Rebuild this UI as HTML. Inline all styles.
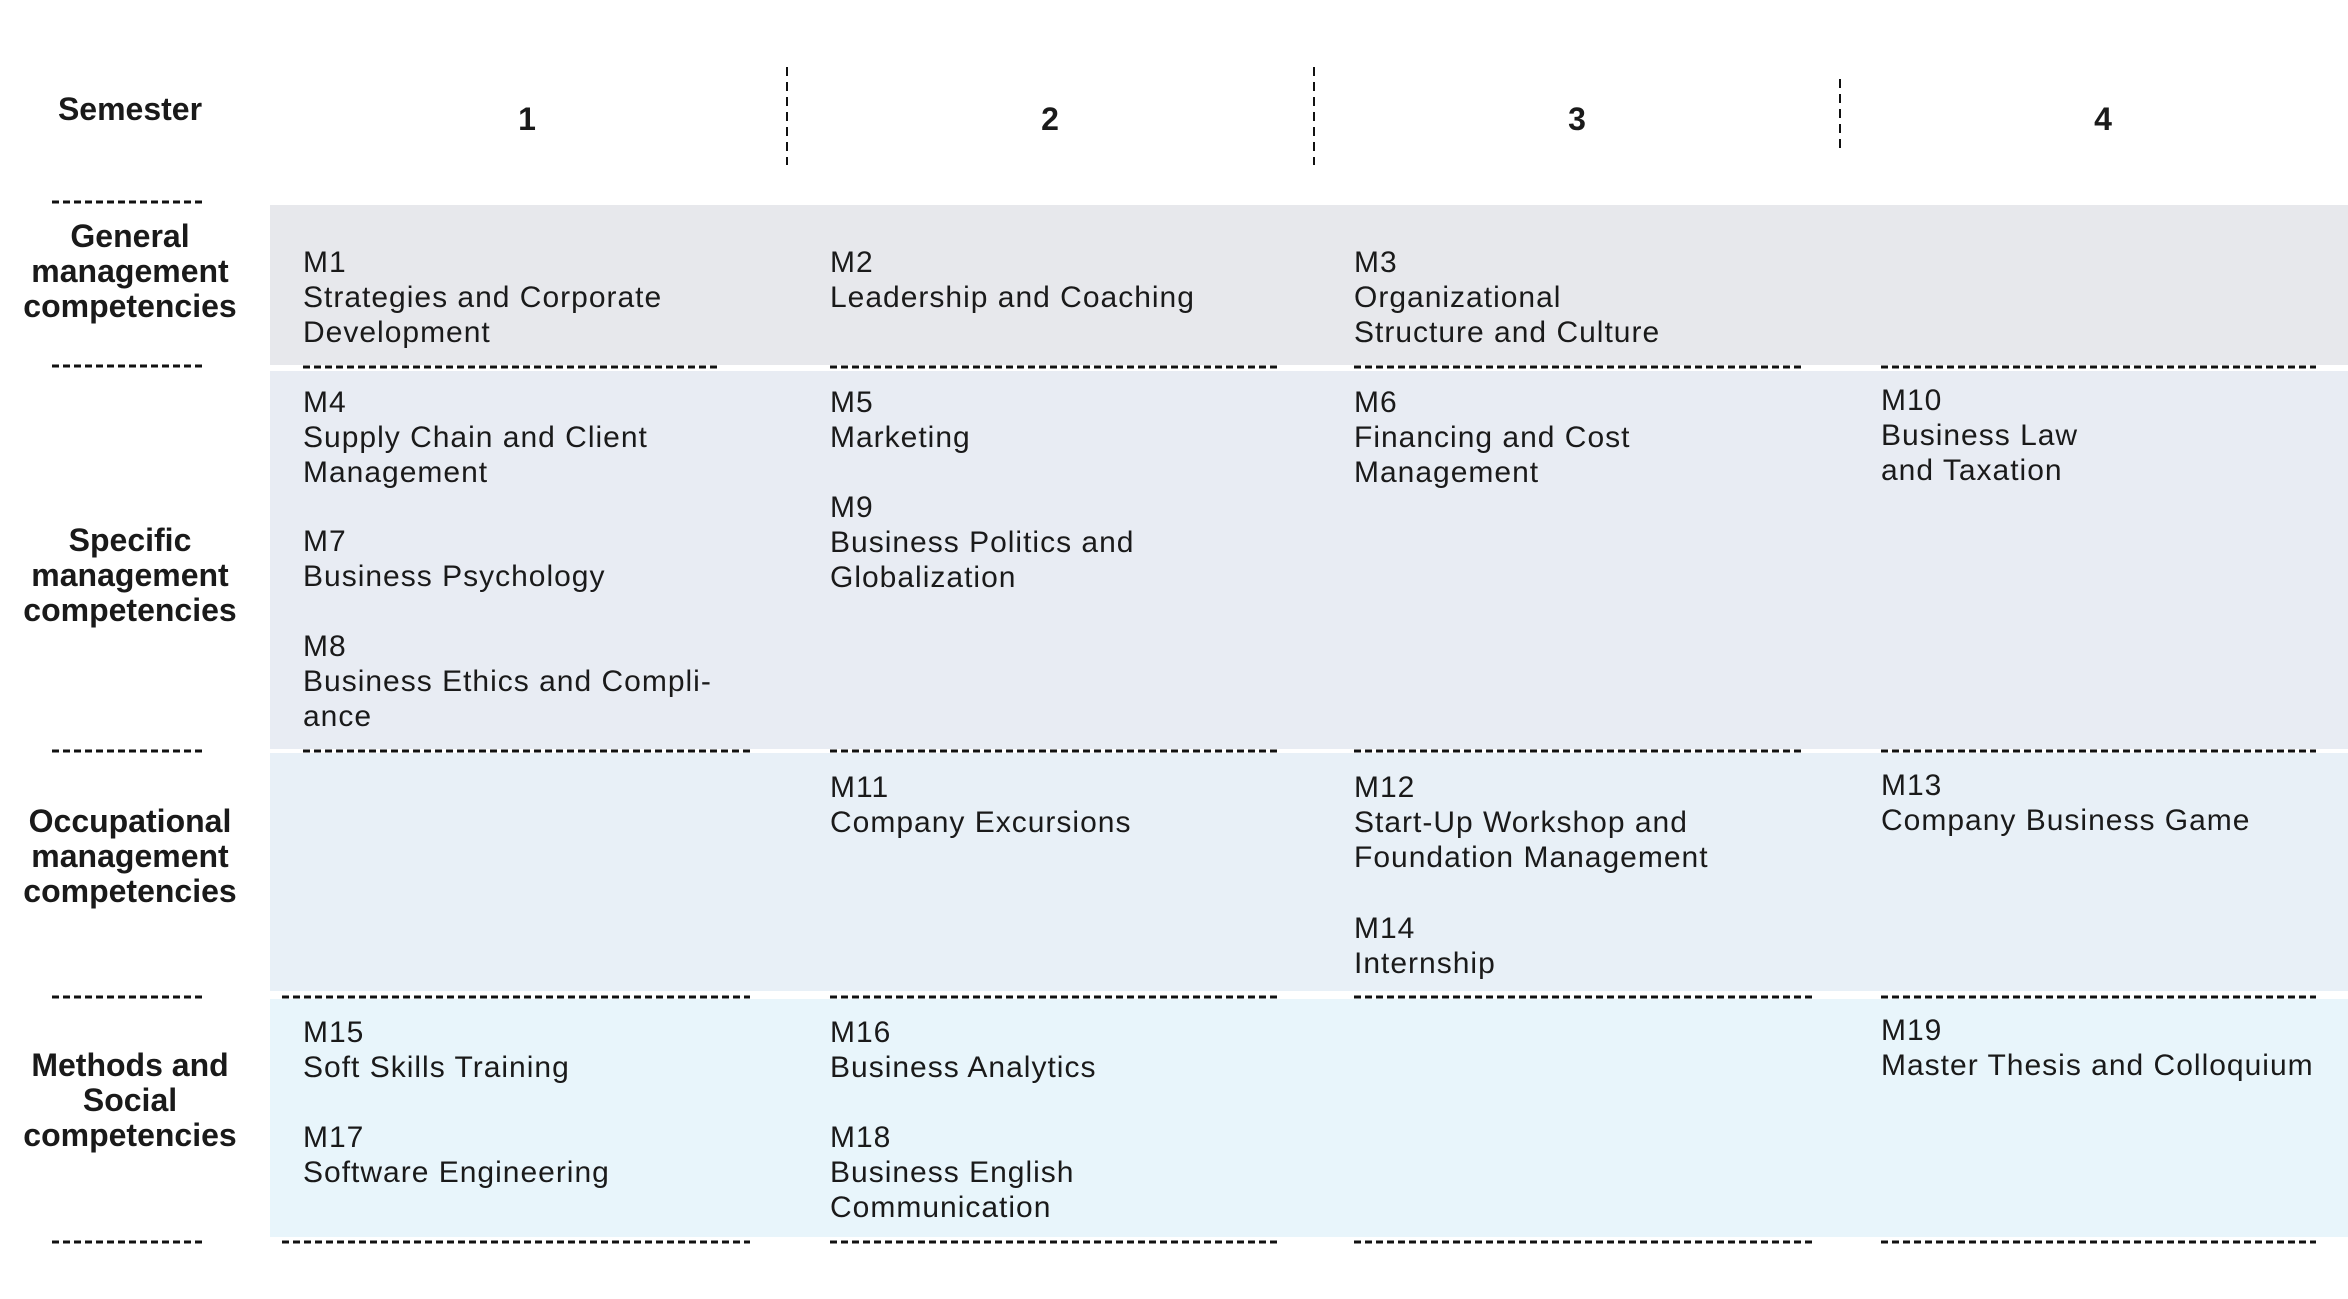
<!DOCTYPE html>
<html><head><meta charset="utf-8"><style>
html,body{margin:0;padding:0;background:#fff;}
body{width:2348px;height:1299px;position:relative;overflow:hidden;font-family:"Liberation Sans",sans-serif;color:#1a1a1a;}
.band{position:absolute;left:270px;width:2078px;}
.t{position:absolute;font-size:30px;line-height:35px;white-space:nowrap;letter-spacing:1px;}
.h{position:absolute;font-size:32px;line-height:35px;font-weight:bold;text-align:center;width:260px;left:0;}
.n{position:absolute;font-size:32px;font-weight:bold;width:60px;text-align:center;top:101px;}
svg{position:absolute;left:0;top:0;}
</style></head><body>
<div class="band" style="top:205px;height:160px;background:#e7e8ec"></div>
<div class="band" style="top:371px;height:378px;background:#e8ecf3"></div>
<div class="band" style="top:753px;height:238px;background:#e8f0f7"></div>
<div class="band" style="top:999px;height:238px;background:#e8f5fb"></div>

<svg width="2348" height="1299" stroke="#111" stroke-width="3" stroke-dasharray="7 4" fill="none">
<g stroke-width="2" stroke-dasharray="9 6">
<line x1="787" y1="67" x2="787" y2="165"/>
<line x1="1314" y1="67" x2="1314" y2="165"/>
<line x1="1840" y1="79" x2="1840" y2="154"/>
</g>
<line x1="52" y1="202" x2="206" y2="202"/>
<line x1="52" y1="366" x2="206" y2="366"/>
<line x1="52" y1="751" x2="206" y2="751"/>
<line x1="52" y1="997" x2="206" y2="997"/>
<line x1="52" y1="1242" x2="206" y2="1242"/>
<line x1="303" y1="367" x2="717" y2="367"/>
<line x1="830" y1="367" x2="1277" y2="367"/>
<line x1="1354" y1="367" x2="1802" y2="367"/>
<line x1="1881" y1="367" x2="2316" y2="367"/>
<line x1="303" y1="751" x2="750" y2="751"/>
<line x1="830" y1="751" x2="1277" y2="751"/>
<line x1="1354" y1="751" x2="1802" y2="751"/>
<line x1="1881" y1="751" x2="2316" y2="751"/>
<line x1="282" y1="997" x2="750" y2="997"/>
<line x1="830" y1="997" x2="1277" y2="997"/>
<line x1="1354" y1="997" x2="1812" y2="997"/>
<line x1="1881" y1="997" x2="2316" y2="997"/>
<line x1="282" y1="1242" x2="750" y2="1242"/>
<line x1="830" y1="1242" x2="1277" y2="1242"/>
<line x1="1354" y1="1242" x2="1812" y2="1242"/>
<line x1="1881" y1="1242" x2="2316" y2="1242"/>
</svg>

<div class="h" style="top:92px">Semester</div>
<div class="n" style="left:497px">1</div>
<div class="n" style="left:1020px">2</div>
<div class="n" style="left:1547px">3</div>
<div class="n" style="left:2073px">4</div>

<div class="h" style="top:219px">General<br>management<br>competencies</div>
<div class="h" style="top:523px">Specific<br>management<br>competencies</div>
<div class="h" style="top:804px">Occupational<br>management<br>competencies</div>
<div class="h" style="top:1048px">Methods and<br>Social<br>competencies</div>

<div class="t" style="left:303px;top:245px">M1<br>Strategies and Corporate<br>Development</div>
<div class="t" style="left:830px;top:245px">M2<br>Leadership and Coaching</div>
<div class="t" style="left:1354px;top:245px">M3<br>Organizational<br>Structure and Culture</div>

<div class="t" style="left:303px;top:385px">M4<br>Supply Chain and Client<br>Management</div>
<div class="t" style="left:303px;top:524px">M7<br>Business Psychology</div>
<div class="t" style="left:303px;top:629px">M8<br>Business Ethics and Compli-<br>ance</div>
<div class="t" style="left:830px;top:385px">M5<br>Marketing</div>
<div class="t" style="left:830px;top:490px">M9<br>Business Politics and<br>Globalization</div>
<div class="t" style="left:1354px;top:385px">M6<br>Financing and Cost<br>Management</div>
<div class="t" style="left:1881px;top:383px">M10<br>Business Law<br>and Taxation</div>

<div class="t" style="left:830px;top:770px">M11<br>Company Excursions</div>
<div class="t" style="left:1354px;top:770px">M12<br>Start-Up Workshop and<br>Foundation Management</div>
<div class="t" style="left:1354px;top:911px">M14<br>Internship</div>
<div class="t" style="left:1881px;top:768px">M13<br>Company Business Game</div>

<div class="t" style="left:303px;top:1015px">M15<br>Soft Skills Training</div>
<div class="t" style="left:303px;top:1120px">M17<br>Software Engineering</div>
<div class="t" style="left:830px;top:1015px">M16<br>Business Analytics</div>
<div class="t" style="left:830px;top:1120px">M18<br>Business English<br>Communication</div>
<div class="t" style="left:1881px;top:1013px">M19<br>Master Thesis and Colloquium</div>
</body></html>
